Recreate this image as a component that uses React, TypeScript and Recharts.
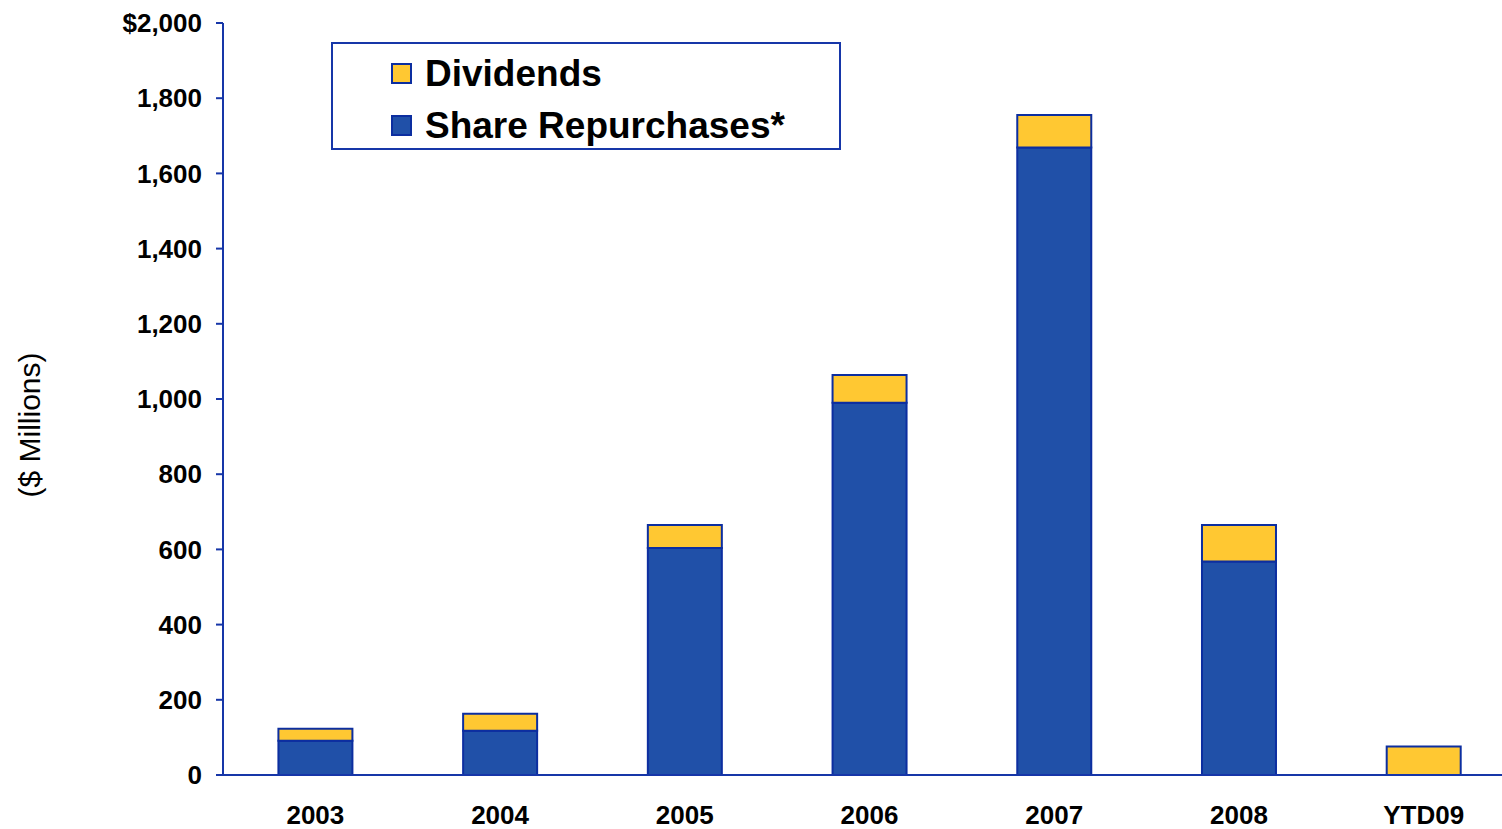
import React from 'react';
import { BarChart, Bar, XAxis, YAxis, Legend } from 'recharts';

const categories = ['2003', '2004', '2005', '2006', '2007', '2008', 'YTD09'];
const shareRepurchases = [91, 118, 604, 990, 1669, 568, 0];
const dividends = [32, 45, 61, 74, 86, 97, 76];
const yTicks = [0, 200, 400, 600, 800, 1000, 1200, 1400, 1600, 1800, 2000];

const data = categories.map((c, i) => ({
  name: c,
  repurchases: shareRepurchases[i],
  dividends: dividends[i],
}));

const FONT = '"Liberation Sans", Arial, Helvetica, sans-serif';
const AXIS = '#1636A8';
const BLUE = '#2050A8';
const YELLOW = '#FFC832';
const STROKE = '#0C2EA0';

const legendItems = [
  { label: 'Dividends', color: YELLOW },
  { label: 'Share Repurchases*', color: BLUE },
];

const fmt = (v: number) => {
  const s = v.toLocaleString('en-US');
  return v === 2000 ? '$' + s : s;
};

const LegendBox = () => (
  <div
    style={{
      width: 510,
      height: 108,
      boxSizing: 'border-box',
      border: `2px solid ${AXIS}`,
      background: '#fff',
      paddingLeft: 58,
      paddingTop: 3,
      fontFamily: FONT,
    }}
  >
    {legendItems.map((it) => (
      <div key={it.label} style={{ display: 'flex', alignItems: 'center', height: 52 }}>
        <div
          style={{
            width: 21,
            height: 21,
            boxSizing: 'border-box',
            background: it.color,
            border: `2px solid ${STROKE}`,
            marginRight: 13,
          }}
        />
        <span style={{ fontSize: 37, fontWeight: 'bold', color: '#000', lineHeight: 1 }}>{it.label}</span>
      </div>
    ))}
  </div>
);

export default function App() {
  return (
    <div style={{ position: 'absolute', left: 0, top: 0, width: 1502, height: 829, overflow: 'hidden', background: '#fff' }}>
      <BarChart
        width={1520}
        height={829}
        data={data}
        margin={{ top: 23, right: 4, bottom: 0, left: 0 }}
        barCategoryGap="30%"
      >
        <XAxis
          dataKey="name"
          axisLine={{ stroke: AXIS, strokeWidth: 2 }}
          tickLine={false}
          tickSize={0}
          tickMargin={31}
          height={54}
          interval={0}
          tick={{ fontSize: 26, fontWeight: 'bold', fill: '#000', fontFamily: FONT }}
        />
        <YAxis
          width={223}
          domain={[0, 2000]}
          ticks={yTicks}
          interval={0}
          tickFormatter={fmt}
          axisLine={{ stroke: AXIS, strokeWidth: 2 }}
          tickLine={{ stroke: AXIS, strokeWidth: 2 }}
          tickSize={7}
          tickMargin={14}
          tick={{ fontSize: 26, fontWeight: 'bold', fill: '#000', fontFamily: FONT }}
          label={{
            value: '($ Millions)',
            angle: -90,
            position: 'insideLeft',
            offset: 29,
            dy: 26,
            style: { fontSize: 30, fill: '#000', fontFamily: FONT, textAnchor: 'middle' },
          }}
        />
        <Legend
          layout="vertical"
          align="center"
          verticalAlign="middle"
          wrapperStyle={{ left: 331, top: 42, width: 510, height: 108 }}
          content={() => <LegendBox />}
        />
        <Bar
          dataKey="repurchases"
          name="Share Repurchases*"
          stackId="a"
          fill={BLUE}
          stroke={STROKE}
          strokeWidth={2}
          isAnimationActive={false}
        />
        <Bar
          dataKey="dividends"
          name="Dividends"
          stackId="a"
          fill={YELLOW}
          stroke={STROKE}
          strokeWidth={2}
          isAnimationActive={false}
        />
      </BarChart>
    </div>
  );
}
